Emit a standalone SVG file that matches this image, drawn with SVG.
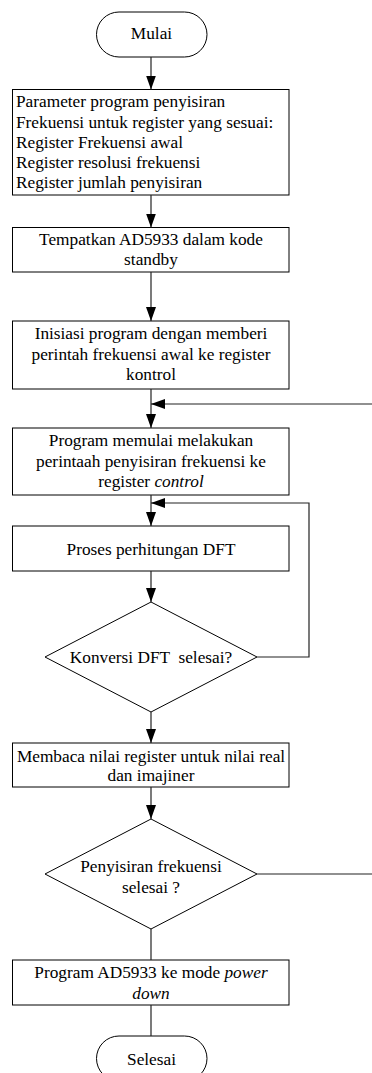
<svg xmlns="http://www.w3.org/2000/svg" width="372" height="1073" viewBox="0 0 372 1073">
<style>
.s{fill:#fff;stroke:#000;stroke-width:1}
.t{font-family:'Liberation Serif','Times New Roman',Times,serif;font-size:17.3px;fill:#000}
.c{text-anchor:middle}
.l{fill:none;stroke:#222;stroke-width:1.2}
</style>
<defs>
<marker id="ah" markerWidth="14" markerHeight="10" refX="14" refY="5" orient="auto" markerUnits="userSpaceOnUse" viewBox="0 0 14 10">
<path d="M0,0 L14,5 L0,10 Z" fill="#000"/>
</marker>
</defs>
<rect width="372" height="1073" fill="#fff"/>
<g id="mulai">
<rect class="s" x="96.5" y="12" width="110.5" height="45" rx="22.5"/>
<text class="t c" x="151.5" y="38.5">Mulai</text>
</g>
<g id="parameter">
<rect class="s" x="12.5" y="89.5" width="276.5" height="105.5"/>
<text class="t" x="16" y="107">Parameter program penyisiran</text>
<text class="t" x="16" y="127.5">Frekuensi untuk register yang sesuai:</text>
<text class="t" x="16" y="148">Register Frekuensi awal</text>
<text class="t" x="16" y="168">Register resolusi frekuensi</text>
<text class="t" x="16" y="188">Register jumlah penyisiran</text>
</g>
<g id="standby">
<rect class="s" x="12.5" y="227.5" width="276.5" height="44.5"/>
<text class="t c" x="151" y="244.5">Tempatkan AD5933 dalam kode</text>
<text class="t c" x="151" y="265">standby</text>
</g>
<g id="inisiasi">
<rect class="s" x="12.5" y="321" width="276.5" height="68"/>
<text class="t c" x="151" y="339">Inisiasi program dengan memberi</text>
<text class="t c" x="151" y="359.5">perintah frekuensi awal ke register</text>
<text class="t c" x="151" y="380">kontrol</text>
</g>
<g id="mulai-penyisiran">
<rect class="s" x="12.5" y="428" width="276.5" height="67"/>
<text class="t c" x="151" y="446">Program memulai melakukan</text>
<text class="t c" x="151" y="466.5">perintaah penyisiran frekuensi ke</text>
<text class="t c" x="151" y="487">register <tspan font-style="italic">control</tspan></text>
</g>
<g id="dft">
<rect class="s" x="12.5" y="526" width="276.5" height="45"/>
<text class="t c" x="151" y="555">Proses perhitungan DFT</text>
</g>
<g id="konversi">
<polygon class="s" points="151,602 257,657 151,712 45,657"/>
<text class="t c" x="151" y="663" xml:space="preserve">Konversi DFT  selesai?</text>
</g>
<g id="membaca">
<rect class="s" x="12.5" y="743" width="276.5" height="44"/>
<text class="t c" x="151" y="762">Membaca nilai register untuk nilai real</text>
<text class="t c" x="151" y="780.5">dan imajiner</text>
</g>
<g id="penyisiran-selesai">
<polygon class="s" points="151,819 257,874 151,929 45,874"/>
<text class="t c" x="151" y="872">Penyisiran frekuensi</text>
<text class="t c" x="151" y="892.5">selesai ?</text>
</g>
<g id="powerdown">
<rect class="s" x="12.5" y="960" width="276.5" height="45"/>
<text class="t c" x="151" y="978">Program AD5933 ke mode <tspan font-style="italic">power</tspan></text>
<text class="t c" x="151" y="998.5" font-style="italic">down</text>
</g>
<g id="selesai">
<rect class="s" x="96.5" y="1036" width="110.5" height="45" rx="22.5"/>
<text class="t c" x="151.5" y="1065">Selesai</text>
</g>
<g id="connectors">
<line class="l" x1="151" y1="57" x2="151" y2="89.5" marker-end="url(#ah)"/>
<line class="l" x1="151" y1="195" x2="151" y2="227.5" marker-end="url(#ah)"/>
<line class="l" x1="151" y1="272" x2="151" y2="321" marker-end="url(#ah)"/>
<line class="l" x1="151" y1="389" x2="151" y2="428" marker-end="url(#ah)"/>
<line class="l" x1="372" y1="404" x2="151" y2="404" marker-end="url(#ah)"/>
<line class="l" x1="151" y1="495" x2="151" y2="526" marker-end="url(#ah)"/>
<polyline class="l" points="257,657 309,657 309,503 151,503" marker-end="url(#ah)"/>
<line class="l" x1="151" y1="571" x2="151" y2="602" marker-end="url(#ah)"/>
<line class="l" x1="151" y1="712" x2="151" y2="743" marker-end="url(#ah)"/>
<line class="l" x1="151" y1="787" x2="151" y2="819" marker-end="url(#ah)"/>
<line class="l" x1="257" y1="874" x2="372" y2="874"/>
<line class="l" x1="151" y1="929" x2="151" y2="960"/>
<line class="l" x1="151" y1="1005" x2="151" y2="1036"/>
</g>
</svg>
